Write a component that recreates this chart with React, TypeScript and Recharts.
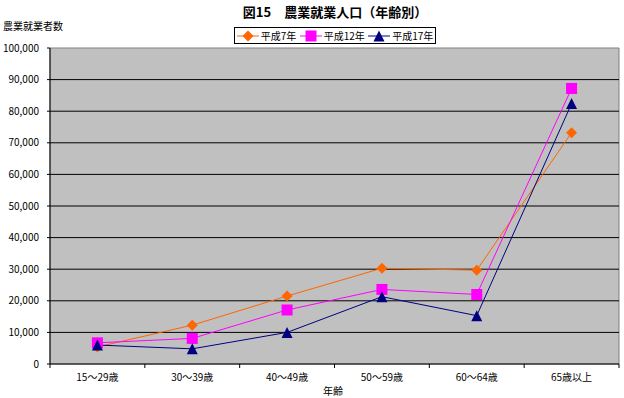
import React from "react";
import {
  LineChart, Line, XAxis, YAxis, CartesianGrid, ReferenceArea, ReferenceLine,
} from "recharts";

// 図15 農業就業人口（年齢別）
const categories = ["15～29歳", "30～39歳", "40～49歳", "50～59歳", "60～64歳", "65歳以上"];
const h7 = [5400, 12300, 21500, 30300, 29700, 73200];
const h12 = [6700, 8100, 17100, 23600, 22000, 87200];
const h17 = [6000, 4800, 10000, 21300, 15300, 82400];
const yTicks = [0, 10000, 20000, 30000, 40000, 50000, 60000, 70000, 80000, 90000, 100000];
const xTicks = [0, 1, 2, 3, 4, 5, 6];

const seriesInfo = [
  { key: "h7", name: "平成7年", color: "#FF6600", shape: "diamond" },
  { key: "h12", name: "平成12年", color: "#FF00FF", shape: "square" },
  { key: "h17", name: "平成17年", color: "#000080", shape: "triangle" },
];

const data = categories.map((c, i) => ({
  x: i + 0.5,
  name: c,
  h7: h7[i],
  h12: h12[i],
  h17: h17[i],
}));

const W = 624;
const H = 398;
const X_H = 30;
const margin = { top: 48, right: 5, bottom: 34 - X_H, left: 0 };
const Y_W = 50;
const BAND = (W - margin.right - Y_W) / categories.length;
const FONT = "'Noto Sans CJK JP', 'Noto Sans', sans-serif";

const Marker = ({ cx, cy, shape, color }: { cx: number; cy: number; shape: string; color: string }) => {
  if (cx == null || cy == null) return null;
  if (shape === "diamond") {
    const r = 5.5;
    return <polygon points={`${cx},${cy - r} ${cx + r},${cy} ${cx},${cy + r} ${cx - r},${cy}`} fill={color} />;
  }
  if (shape === "square") {
    const r = 5.5;
    return <rect x={cx - r} y={cy - r} width={r * 2} height={r * 2} fill={color} />;
  }
  const r = 5.5;
  return <polygon points={`${cx},${cy - r} ${cx + r},${cy + r} ${cx - r},${cy + r}`} fill={color} />;
};

const makeDot = (shape: string, color: string) => (props: any) => (
  <Marker key={props.index} cx={props.cx} cy={props.cy} shape={shape} color={color} />
);

const XTick = ({ x, y, payload }: any) => {
  const i = payload.value;
  if (i >= categories.length) return null;
  return (
    <text x={x + BAND / 2} y={y + 11} textAnchor="middle" fontSize={10} fontFamily={FONT} fill="#000">
      {categories[i]}
    </text>
  );
};

const LegendBox = () => (
  <div style={{
    position: "absolute", top: 27, left: 234, width: 200, height: 15,
    display: "flex", alignItems: "center", justifyContent: "space-around",
    border: "1px solid #000", background: "#fff",
    fontSize: 10, fontFamily: FONT, zIndex: 2,
  }}>
    {seriesInfo.map((s) => (
      <span key={s.key} style={{ display: "flex", alignItems: "center" }}>
        <svg width={22} height={12}>
          <line x1={0} x2={22} y1={6} y2={6} stroke={s.color} strokeWidth={1} />
          <Marker cx={11} cy={6} shape={s.shape} color={s.color} />
        </svg>
        <span style={{ marginLeft: 2 }}>{s.name}</span>
      </span>
    ))}
  </div>
);

export default function App() {
  return (
    <div style={{ position: "relative", width: W, height: H, background: "#fff", fontFamily: FONT }}>
      <style>{`body{margin:0}`}</style>
      <div style={{
        position: "absolute", top: 2, left: 0, width: 670, textAlign: "center",
        fontSize: 13, fontWeight: "bold",
      }}>
        図15　農業就業人口（年齢別）
      </div>
      <div style={{ position: "absolute", top: 18, left: 3, fontSize: 10 }}>農業就業者数</div>
      <div style={{ position: "absolute", top: 383, left: 0, width: 666, textAlign: "center", fontSize: 10 }}>年齢</div>
      <LegendBox />
      <LineChart width={W} height={H} data={data} margin={margin}>
        <CartesianGrid horizontal={false} vertical={false} fill="#C0C0C0" fillOpacity={1} />
        {yTicks.slice(1, -1).map((v) => (
          <ReferenceLine key={v} y={v} stroke="#000" strokeWidth={1} />
        ))}
        <ReferenceArea x1={0} x2={6} y1={0} y2={100000} fill="none" stroke="#808080" ifOverflow="visible" />
        <XAxis
          dataKey="x"
          type="number"
          domain={[0, 6]}
          ticks={xTicks}
          interval={0}
          height={X_H}
          tick={<XTick />}
          tickSize={4}
          axisLine={{ stroke: "#000" }}
          tickLine={{ stroke: "#000" }}
        />
        <YAxis
          width={Y_W}
          domain={[0, 100000]}
          ticks={yTicks}
          interval={0}
          tickSize={3}
          tickMargin={8}
          tickFormatter={(v) => v.toLocaleString("en-US")}
          tick={{ fontSize: 10, fill: "#000", fontFamily: FONT }}
          axisLine={{ stroke: "#000" }}
          tickLine={{ stroke: "#000" }}
        />
        {seriesInfo.map((s) => (
          <Line
            key={s.key}
            dataKey={s.key}
            name={s.name}
            stroke={s.color}
            strokeWidth={1}
            type="linear"
            dot={makeDot(s.shape, s.color)}
            activeDot={false}
            isAnimationActive={false}
          />
        ))}
      </LineChart>
    </div>
  );
}
